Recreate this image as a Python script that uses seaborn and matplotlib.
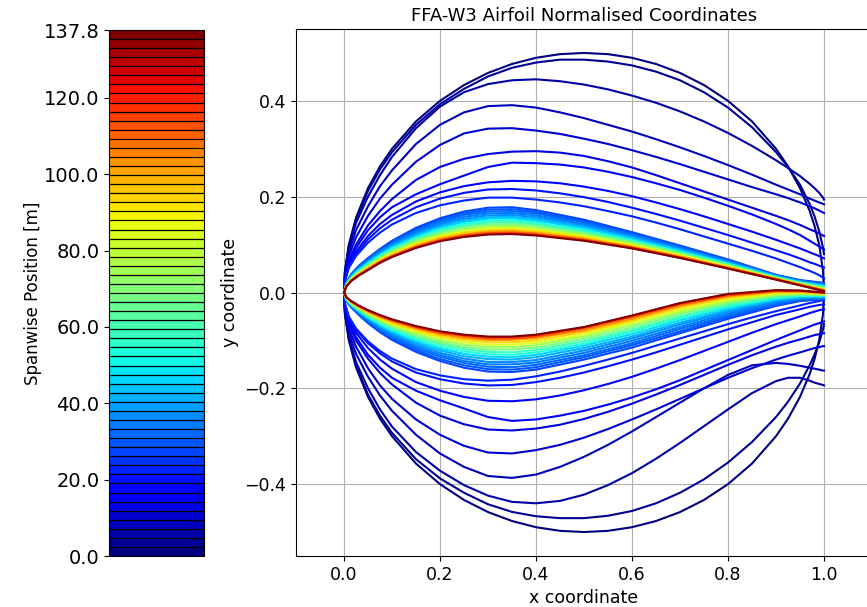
import matplotlib
matplotlib.use("Agg")
import matplotlib.pyplot as plt
import matplotlib.colors as mcolors
import matplotlib.cm as mcm
import pandas as pd
import seaborn as sns

# ---------------- data ----------------
span_max = 137.8
span_ticks = [0.0, 20.0, 40.0, 60.0, 80.0, 100.0, 120.0, 137.8]
n_colour_levels = 58

# chordwise stations for the thick root sections
x_root = [0, .002, .01, .025, .05, .075, .1, .15, .2, .25, .3, .35, .4, .45, .5,
          .55, .6, .65, .7, .75, .8, .85, .9, .925, .95, .97, .98, .99, .998, 1]
root_span = [0.0, 2.4, 4.8, 7.2, 9.6, 12.0, 14.4, 16.8, 19.2, 21.6]
root_upper = [
    [0, .0447, .0995, .1561, .2179, .2634, .3, .3571, .4, .433, .4583, .477, .4899, .4975, .5,
     .4975, .4899, .477, .4583, .433, .4, .3571, .3, .2634, .2179, .1706, .14, .0995, .0447, 0],
    [0, .044, .097, .152, .212, .257, .293, .35, .393, .425, .451, .469, .48, .486, .486,
     .482, .474, .461, .443, .418, .386, .345, .293, .262, .225, .185, .16, .128, .093, .08],
    [0, .042, .093, .145, .2, .245, .283, .343, .388, .418, .435, .443, .445, .441, .434,
     .424, .411, .396, .378, .357, .333, .306, .276, .26, .243, .227, .218, .208, .198, .194],
    [0, .038, .085, .13, .18, .222, .255, .31, .35, .376, .389, .391, .386, .376, .364,
     .35, .336, .32, .303, .285, .266, .246, .225, .215, .205, .196, .192, .188, .185, .184],
    [0, .034, .076, .115, .16, .196, .225, .273, .308, .332, .342, .343, .338, .331, .321,
     .31, .297, .283, .268, .252, .236, .22, .205, .197, .188, .18, .176, .171, .167, .166],
    [0, .03, .067, .1, .14, .17, .195, .235, .262, .279, .289, .294, .295, .292, .285,
     .274, .261, .245, .228, .211, .194, .177, .16, .151, .141, .132, .128, .123, .119, .118],
    [0, .028, .062, .093, .13, .157, .178, .205, .226, .244, .262, .271, .27, .267, .261,
     .252, .241, .228, .214, .198, .181, .163, .143, .132, .12, .108, .102, .096, .091, .09],
    [0, .026, .057, .085, .118, .143, .162, .19, .209, .222, .23, .233, .232, .228, .221,
     .212, .201, .188, .174, .159, .143, .127, .11, .101, .092, .084, .08, .076, .072, .071],
    [0, .025, .054, .08, .111, .134, .152, .178, .196, .208, .215, .216, .213, .207, .199,
     .189, .177, .164, .15, .135, .12, .104, .088, .08, .071, .063, .06, .056, .053, .052],
    [0, .024, .051, .076, .104, .125, .142, .166, .182, .192, .198, .198, .194, .188, .18,
     .17, .159, .146, .132, .117, .102, .087, .071, .062, .053, .045, .041, .036, .031, .029],
]
root_lower = [
    [0, -.0447, -.0995, -.1561, -.2179, -.2634, -.3, -.3571, -.4, -.433, -.4583, -.477, -.4899, -.4975, -.5,
     -.4975, -.4899, -.477, -.4583, -.433, -.4, -.3571, -.3, -.2634, -.2179, -.1706, -.14, -.0995, -.0447, 0],
    [0, -.044, -.097, -.153, -.213, -.257, -.293, -.348, -.388, -.418, -.442, -.458, -.467, -.471, -.471,
     -.466, -.456, -.44, -.418, -.39, -.355, -.312, -.26, -.228, -.19, -.152, -.13, -.104, -.077, -.066],
    [0, -.042, -.093, -.145, -.2, -.244, -.28, -.333, -.372, -.402, -.424, -.437, -.44, -.435, -.422,
     -.402, -.377, -.347, -.314, -.279, -.244, -.21, -.185, -.178, -.178, -.184, -.188, -.191, -.193, -.194],
    [0, -.038, -.084, -.128, -.176, -.215, -.247, -.297, -.336, -.364, -.383, -.387, -.38, -.364, -.343,
     -.318, -.29, -.26, -.23, -.2, -.172, -.152, -.147, -.149, -.153, -.157, -.159, -.161, -.163, -.163],
    [0, -.034, -.075, -.113, -.158, -.194, -.222, -.265, -.297, -.32, -.334, -.336, -.329, -.318, -.303,
     -.285, -.265, -.244, -.222, -.2, -.178, -.158, -.14, -.132, -.125, -.119, -.116, -.114, -.112, -.112],
    [0, -.03, -.066, -.1, -.138, -.168, -.192, -.23, -.257, -.275, -.286, -.288, -.284, -.276, -.264,
     -.249, -.232, -.213, -.193, -.172, -.151, -.131, -.113, -.105, -.098, -.092, -.089, -.087, -.085, -.085],
    [0, -.028, -.062, -.093, -.13, -.157, -.178, -.205, -.225, -.242, -.26, -.268, -.265, -.257, -.247,
     -.234, -.219, -.202, -.183, -.162, -.141, -.12, -.099, -.089, -.079, -.071, -.067, -.064, -.061, -.06],
    [0, -.026, -.056, -.084, -.116, -.14, -.159, -.187, -.205, -.218, -.226, -.227, -.223, -.215, -.204,
     -.191, -.176, -.159, -.141, -.122, -.103, -.084, -.066, -.058, -.05, -.043, -.04, -.037, -.035, -.035],
    [0, -.024, -.052, -.078, -.106, -.127, -.144, -.167, -.181, -.19, -.194, -.193, -.187, -.178, -.167,
     -.154, -.14, -.125, -.109, -.093, -.077, -.062, -.047, -.041, -.035, -.03, -.028, -.026, -.025, -.025],
    [0, -.023, -.05, -.075, -.102, -.122, -.138, -.16, -.173, -.181, -.184, -.182, -.175, -.165, -.153,
     -.14, -.126, -.111, -.096, -.081, -.066, -.052, -.039, -.033, -.027, -.022, -.02, -.018, -.016, -.016],
]

# chordwise stations for the FFA-W3 family sections
x_foil = [0, .005, .015, .03, .05, .075, .1, .15, .2, .25, .3, .35, .4, .5, .6, .7, .8, .9, .95, 1]
foil_span = [26.4, 28.7, 31.2, 34.0, 37.5, 42.0, 46.8, 52.5, 59.0, 67.0, 75.5,
             84.0, 93.0, 103.0, 112.0, 121.0, 137.8]
foil_upper = [
    [0, .021, .038, .055, .072, .091, .108, .135, .155, .169, .177, .178, .172, .152, .126, .098, .069, .037, .026, .020],
    [0, .020, .037, .054, .070, .089, .106, .132, .152, .165, .173, .174, .168, .149, .124, .096, .068, .036, .025, .019],
    [0, .020, .036, .052, .069, .087, .103, .129, .148, .162, .169, .170, .165, .146, .121, .094, .066, .036, .024, .018],
    [0, .019, .035, .051, .067, .085, .101, .126, .145, .158, .165, .166, .161, .143, .119, .093, .065, .035, .024, .016],
    [0, .019, .034, .049, .065, .083, .099, .123, .142, .154, .161, .162, .157, .140, .117, .091, .064, .034, .023, .015],
    [0, .018, .033, .048, .063, .081, .096, .120, .138, .150, .157, .158, .153, .137, .114, .089, .062, .034, .022, .014],
    [0, .018, .032, .047, .062, .079, .094, .117, .135, .147, .154, .155, .150, .134, .112, .087, .061, .033, .021, .013],
    [0, .017, .031, .045, .060, .077, .091, .114, .132, .143, .150, .151, .146, .130, .109, .085, .060, .032, .021, .012],
    [0, .017, .030, .044, .058, .075, .089, .112, .128, .139, .146, .147, .142, .127, .107, .083, .058, .031, .020, .011],
    [0, .016, .029, .042, .056, .073, .087, .109, .125, .136, .142, .143, .139, .124, .105, .082, .057, .031, .019, .009],
    [0, .015, .028, .041, .055, .071, .084, .106, .121, .132, .138, .139, .135, .121, .102, .080, .056, .030, .018, .008],
    [0, .015, .027, .040, .053, .069, .082, .103, .118, .128, .134, .135, .131, .118, .100, .078, .054, .029, .018, .007],
    [0, .014, .026, .038, .051, .067, .079, .100, .115, .125, .130, .131, .128, .115, .097, .076, .053, .029, .017, .006],
    [0, .014, .025, .037, .050, .065, .077, .097, .112, .121, .127, .128, .124, .112, .095, .075, .052, .028, .016, .005],
    [0, .013, .025, .036, .048, .063, .076, .095, .109, .119, .124, .125, .122, .110, .094, .073, .051, .028, .016, .004],
    [0, .013, .024, .035, .047, .063, .075, .094, .108, .117, .122, .123, .120, .109, .093, .073, .050, .027, .015, .003],
    [0, .013, .024, .035, .047, .062, .074, .093, .107, .116, .121, .122, .119, .108, .092, .072, .050, .027, .015, .003],
]
foil_lower = [
    [0, -.018, -.031, -.046, -.064, -.083, -.099, -.124, -.143, -.157, -.165, -.166, -.161, -.140, -.115, -.085, -.055, -.028, -.018, -.014],
    [0, -.017, -.030, -.045, -.062, -.080, -.096, -.120, -.139, -.152, -.160, -.161, -.156, -.135, -.110, -.081, -.051, -.026, -.016, -.013],
    [0, -.017, -.029, -.043, -.060, -.078, -.093, -.116, -.134, -.147, -.155, -.156, -.151, -.131, -.106, -.076, -.048, -.023, -.015, -.012],
    [0, -.016, -.028, -.042, -.058, -.075, -.090, -.113, -.130, -.143, -.150, -.150, -.146, -.126, -.101, -.072, -.044, -.021, -.013, -.011],
    [0, -.016, -.027, -.041, -.056, -.073, -.087, -.109, -.126, -.138, -.145, -.145, -.141, -.121, -.096, -.067, -.040, -.019, -.012, -.010],
    [0, -.015, -.026, -.039, -.054, -.070, -.084, -.105, -.121, -.133, -.139, -.140, -.135, -.116, -.092, -.063, -.037, -.016, -.010, -.009],
    [0, -.015, -.026, -.038, -.053, -.068, -.081, -.101, -.117, -.128, -.134, -.135, -.130, -.111, -.087, -.058, -.033, -.014, -.009, -.008],
    [0, -.014, -.025, -.037, -.051, -.065, -.078, -.098, -.113, -.123, -.129, -.130, -.125, -.107, -.082, -.054, -.030, -.012, -.007, -.007],
    [0, -.014, -.024, -.035, -.049, -.063, -.075, -.094, -.108, -.118, -.124, -.125, -.120, -.102, -.078, -.050, -.026, -.010, -.006, -.006],
    [0, -.013, -.023, -.034, -.047, -.060, -.072, -.090, -.104, -.114, -.119, -.119, -.115, -.097, -.073, -.045, -.022, -.007, -.004, -.005],
    [0, -.012, -.022, -.033, -.045, -.058, -.069, -.086, -.100, -.109, -.114, -.114, -.110, -.092, -.068, -.041, -.019, -.005, -.003, -.004],
    [0, -.012, -.021, -.031, -.043, -.055, -.066, -.082, -.095, -.104, -.109, -.109, -.105, -.088, -.063, -.037, -.015, -.003, -.001, -.003],
    [0, -.011, -.020, -.030, -.041, -.053, -.063, -.079, -.091, -.099, -.104, -.104, -.100, -.083, -.059, -.032, -.011, .000, .000, -.002],
    [0, -.011, -.019, -.029, -.040, -.051, -.060, -.075, -.087, -.095, -.099, -.099, -.095, -.079, -.055, -.028, -.008, .002, .002, -.001],
    [0, -.010, -.019, -.028, -.038, -.049, -.058, -.073, -.084, -.091, -.096, -.096, -.092, -.075, -.051, -.025, -.006, .003, .003, -.001],
    [0, -.010, -.018, -.027, -.037, -.048, -.057, -.071, -.082, -.089, -.093, -.093, -.089, -.073, -.049, -.023, -.004, .004, .004, .000],
    [0, -.010, -.018, -.027, -.037, -.047, -.056, -.070, -.081, -.088, -.092, -.092, -.088, -.072, -.048, -.022, -.003, .005, .004, .000],
]

# ---------------- build long table: one closed outline per section ----------------
rows = []
pid = 0
for xs, spans, ups, los in [(x_root, root_span, root_upper, root_lower),
                            (x_foil, foil_span, foil_upper, foil_lower)]:
    for s, up, lo in zip(spans, ups, los):
        px = list(xs[::-1]) + list(xs[1:])
        py = list(up[::-1]) + list(lo[1:])
        for k, (a, b) in enumerate(zip(px, py)):
            rows.append({"profile": pid, "span": s, "order": k, "x": a, "y": b})
        pid += 1
df = pd.DataFrame(rows)

# ---------------- figure ----------------
W, H = 867, 607
fig = plt.figure(figsize=(W / 100, H / 100), dpi=100)

cmap = plt.get_cmap("jet", n_colour_levels)
norm = mcolors.Normalize(vmin=0.0, vmax=span_max)

ax = fig.add_axes([296 / W, (H - 556) / H, 576 / W, 527 / H])
sns.lineplot(data=df, x="x", y="y", hue="span", units="profile", estimator=None,
             sort=False, palette=cmap, hue_norm=norm, legend=False, ax=ax,
             linewidth=1.5)
ax.set_xlim(-0.1, 1.1)
ax.set_ylim(-0.55, 0.55)
ax.grid(True, color="#b0b0b0", linewidth=0.8)
ax.set_axisbelow(True)
ax.set_title("FFA-W3 Airfoil Normalised Coordinates", fontsize=13)
ax.set_xlabel("x coordinate", fontsize=12.5)
ax.set_ylabel("y coordinate", fontsize=12.5)
ax.tick_params(labelsize=12.5)

cax = fig.add_axes([109 / W, (H - 556) / H, 95 / W, 526 / H])
sm = mcm.ScalarMappable(norm=norm, cmap=cmap)
cb = fig.colorbar(sm, cax=cax, drawedges=True)
cb.dividers.set_color("black")
cb.dividers.set_linewidth(0.9)
cb.set_ticks(span_ticks)
cb.set_ticklabels([f"{t:.1f}" for t in span_ticks])
cax.yaxis.set_ticks_position("left")
cax.yaxis.set_label_position("left")
cax.tick_params(labelsize=14)
cb.set_label("Spanwise Position [m]", fontsize=12, labelpad=1)

fig.savefig("out.png", dpi=100)
